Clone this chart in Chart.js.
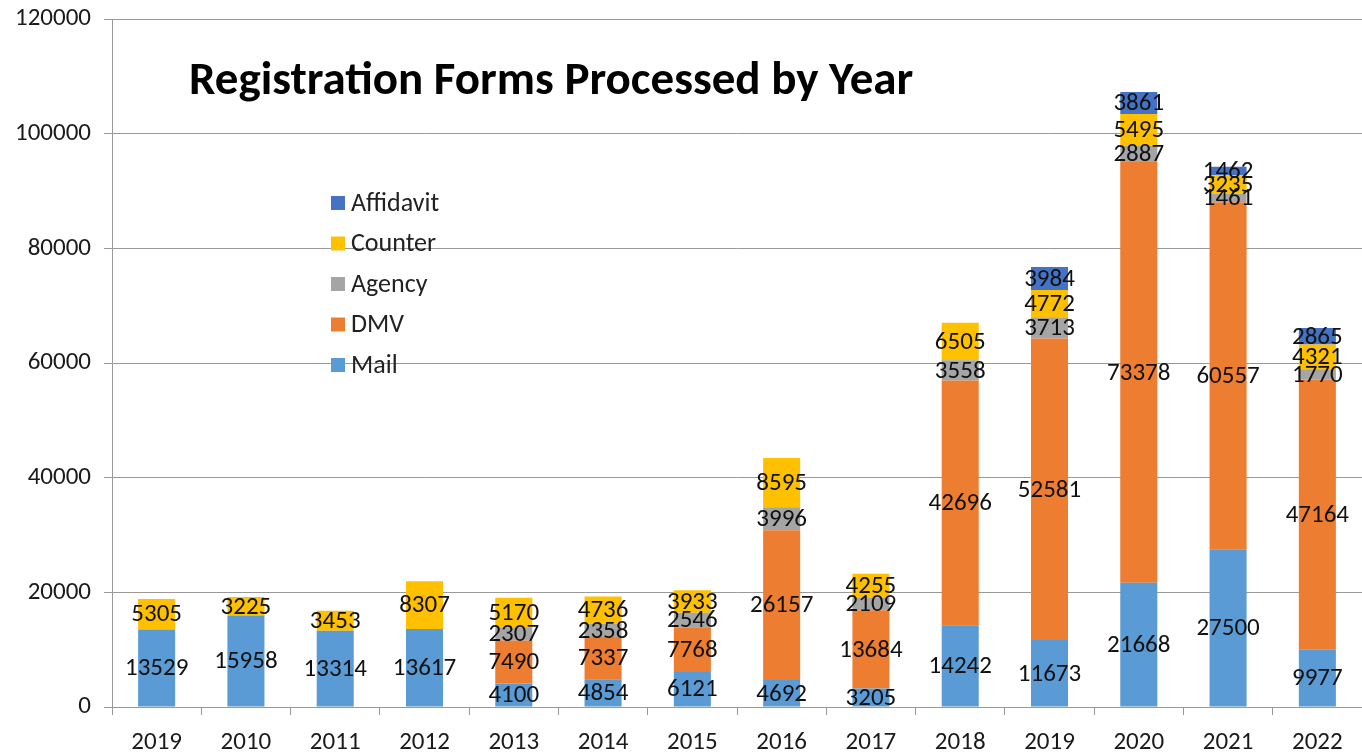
<!DOCTYPE html>
<html>
<head>
<meta charset="utf-8">
<script src="https://cdn.jsdelivr.net/npm/chart.js@4"></script>
<style>
  html, body { margin: 0; padding: 0; background: #fff; overflow: hidden; }
  #BarChart { display: block; margin-top: -9px; }
</style>
</head>
<body>
<canvas id="BarChart" width="1362" height="761"></canvas>
<script>
const FONT = "Carlito, Lato, 'Open Sans', sans-serif";
const SHIFT = 9; // canvas is pulled up by this much

const years = ['2019', '2010', '2011', '2012', '2013', '2014', '2015', '2016', '2017', '2018', '2019', '2020', '2021', '2022'];
const mail      = [13529, 15958, 13314, 13617, 4100, 4854, 6121, 4692, 3205, 14242, 11673, 21668, 27500, 9977];
const dmv       = [0, 0, 0, 0, 7490, 7337, 7768, 26157, 13684, 42696, 52581, 73378, 60557, 47164];
const agency    = [0, 0, 0, 0, 2307, 2358, 2546, 3996, 2109, 3558, 3713, 2887, 1461, 1770];
const counter   = [5305, 3225, 3453, 8307, 5170, 4736, 3933, 8595, 4255, 6505, 4772, 5495, 3235, 4321];
const affidavit = [0, 0, 0, 0, 0, 0, 0, 0, 0, 0, 3984, 3861, 1462, 2865];
const yTicks = [0, 20000, 40000, 60000, 80000, 100000, 120000];

const chartTitle = 'Registration Forms Processed by Year';

// value labels in the middle of every segment
const valueLabels = {
  id: 'valueLabels',
  afterDatasetsDraw(chart) {
    const ctx = chart.ctx;
    ctx.save();
    ctx.font = '25px ' + FONT;
    ctx.fillStyle = '#111';
    ctx.textAlign = 'center';
    ctx.textBaseline = 'middle';
    chart.data.datasets.forEach((ds, i) => {
      const meta = chart.getDatasetMeta(i);
      meta.data.forEach((bar, j) => {
        const v = ds.data[j];
        if (!v) return;
        ctx.fillText(String(v), bar.x, (bar.y + bar.base) / 2 + 1);
      });
    });
    ctx.restore();
  }
};

// title + legend sit inside the plot area
const insideText = {
  id: 'insideText',
  afterDraw(chart) {
    const ctx = chart.ctx;
    ctx.save();
    ctx.fillStyle = '#000';
    ctx.font = 'bold 47px ' + FONT;
    ctx.textAlign = 'left';
    ctx.textBaseline = 'middle';
    ctx.fillText(chartTitle, 189, 82 + SHIFT);

    ctx.font = '26px ' + FONT;
    const order = chart.data.datasets.slice().reverse();
    order.forEach((ds, i) => {
      const y = 203 + SHIFT + i * 40.5;
      ctx.fillStyle = ds.backgroundColor;
      ctx.fillRect(331, y - 7, 14, 14);
      ctx.fillStyle = '#222';
      ctx.fillText(ds.label, 351, y + 1);
    });
    ctx.restore();
  }
};

const ctx = document.getElementById('BarChart').getContext('2d');
const chart = new Chart(ctx, {
  type: 'bar',
  data: {
    labels: years,
    datasets: [
      { label: 'Mail', data: mail, backgroundColor: '#5b9bd5' },
      { label: 'DMV', data: dmv, backgroundColor: '#ed7d31' },
      { label: 'Agency', data: agency, backgroundColor: '#a5a5a5' },
      { label: 'Counter', data: counter, backgroundColor: '#ffc000' },
      { label: 'Affidavit', data: affidavit, backgroundColor: '#4472c4' }
    ]
  },
  options: {
    responsive: false,
    animation: false,
    layout: { padding: { top: 4, right: 0, left: 0, bottom: 0 } },
    datasets: { bar: { categoryPercentage: 1, barPercentage: 0.415, borderWidth: 0 } },
    plugins: {
      legend: { display: false },
      title: { display: false },
      tooltip: { enabled: false }
    },
    scales: {
      x: {
        stacked: true,
        afterFit(scale) { scale.height = 45; },
        grid: { offset: true, drawOnChartArea: false, drawTicks: true, tickLength: 8, color: '#999' },
        border: { display: true, color: '#999' },
        ticks: { color: '#1a1a1a', font: { family: FONT, size: 25 }, padding: 13, maxRotation: 0, autoSkip: false }
      },
      y: {
        stacked: true,
        min: 0,
        max: 120000,
        afterFit(scale) { scale.width = 112; },
        afterBuildTicks(scale) { scale.ticks = yTicks.map(v => ({ value: v })); },
        grid: { color: '#999', drawTicks: true, tickLength: 8 },
        border: { display: true, color: '#999' },
        ticks: { color: '#1a1a1a', font: { family: FONT, size: 25 }, padding: 13, callback: v => String(v) }
      }
    }
  },
  plugins: [valueLabels, insideText]
});
</script>
</body>
</html>
